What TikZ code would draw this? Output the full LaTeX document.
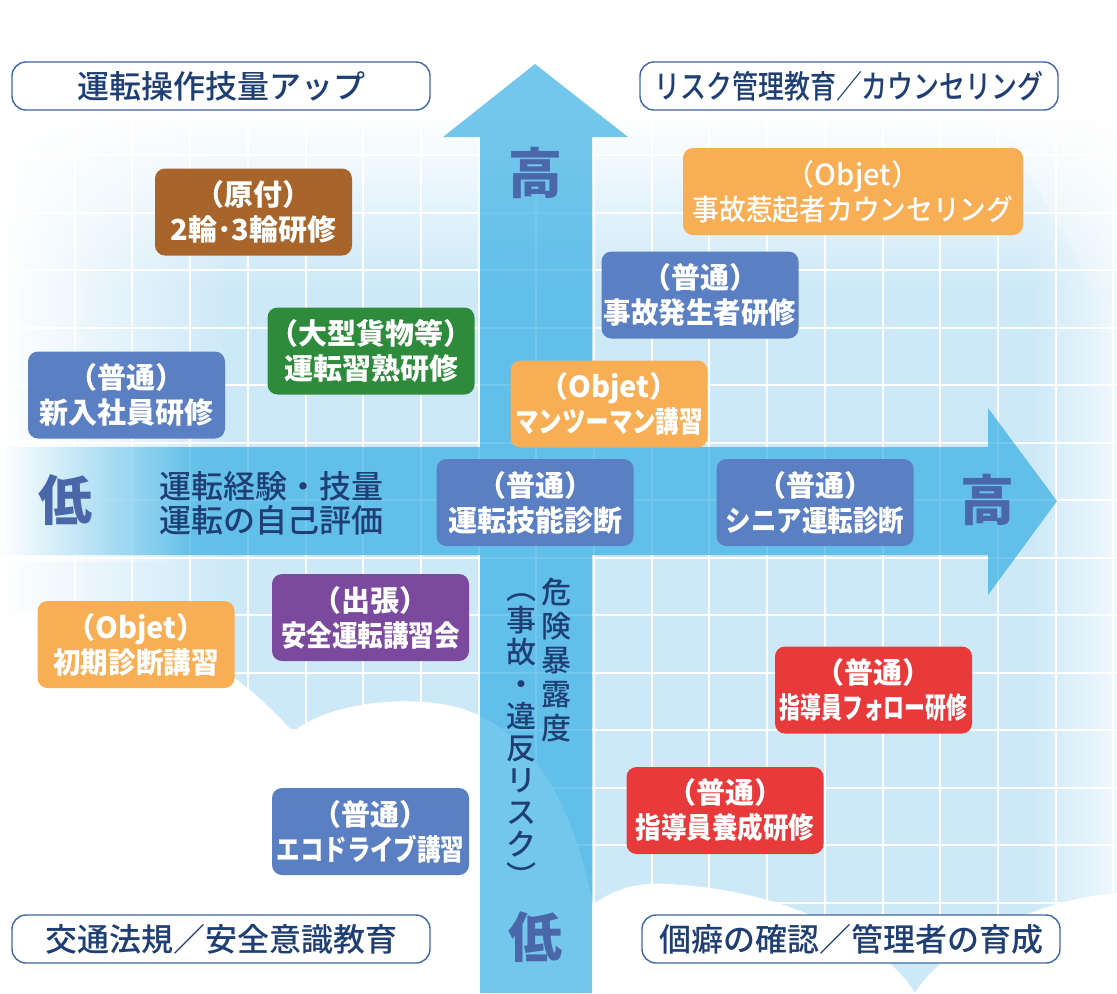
\documentclass[tikz,border=0pt]{standalone}
\usepackage{fontspec}
\setmainfont{Noto Sans CJK JP}
\newfontfamily\medfont{Noto Sans CJK JP Medium}
\usetikzlibrary{
	positioning,
	arrows.meta,
	shapes,
	calc,
	fadings}
\definecolor{bgblue}{HTML}{CDE9F8}
\definecolor{arrowblue}{HTML}{2AAAE2}
\definecolor{navy}{HTML}{1F3F74}
\definecolor{axisblue}{HTML}{4A67A9}
\definecolor{frameblue}{HTML}{3D67A8}
\definecolor{courseblue}{HTML}{5B7FC3}
\definecolor{courseorange}{HTML}{F7AE55}
\definecolor{coursebrown}{HTML}{A8652B}
\definecolor{coursegreen}{HTML}{2E8B3B}
\definecolor{coursepurple}{HTML}{7B4A9F}
\definecolor{coursered}{HTML}{E83A3A}
\tikzset{
	course width/.store in=\cwidth,
	course width=98.5pt,
	course height/.store in=\cheight,
	course height=43.5pt,
	course/.style={
		rounded corners=5pt,
		fill=#1,
		text=white,
		font=\bfseries\fontsize{14.5}{17.5}\selectfont,
		align=center,
		inner sep=1pt,
		minimum width=\cwidth,
		minimum height=\cheight
	},
	corner box/.style={
		draw=frameblue,
		line width=.7pt,
		fill=white,
		rounded corners=7pt,
		text=navy,
		font=\medfont\fontsize{16}{18}\selectfont,
		minimum width=209pt,
		minimum height=24pt
	},
	axis label/.style={
		text=axisblue,
		font=\bfseries\fontsize{27}{27}\selectfont,
		inner sep=0pt
	},
	risk text/.style={
		text=navy,
		align=center,
		inner sep=0pt,
		font=\medfont\fontsize{15}{17}\selectfont
	},
	grid line/.style={white, line width=1pt},
	axis arrow/.style={fill=arrowblue, fill opacity=.65},
}
\newcommand{\squeeze}[2]{\scalebox{#1}[1]{#2}}

\begin{document}
\begin{tikzpicture}[x=.5pt, y=-.5pt]
	\useasboundingbox (0,0) rectangle (1117,993);
%
	\fill[bgblue] (0,0) rectangle (1117,993);
	\foreach \k in {-10,...,8}
		\draw[grid line] ({651.7+57.7*\k},100) -- ({651.7+57.7*\k},993);
	\foreach \k in {-7,...,8}
		\draw[grid line] (0,{500+57.5*\k}) -- (1117,{500+57.5*\k});
	\fill[white] (0,0) rectangle (1117,115);
	\fill[white, path fading=south] (0,114) rectangle (1117,290);
	\fill[white, path fading=east] (0,0) rectangle (230,993);
	\fill[white, path fading=west, fill opacity=.7] (1030,0) rectangle (1117,993);
	\fill[white, path fading=south, fill opacity=.8] (930,0) -- (1117,0) -- (1117,330) -- cycle;
%
	\fill[white] (0,993) -- (0,615) .. controls (120,600) and (220,650) .. (293,732)
		.. controls (330,700) and (430,690) .. (480,716)
		.. controls (540,745) and (590,820) .. (605,993) -- cycle;
	\fill[white] (592,993) -- (592,905) .. controls (615,888) and (640,882) .. (666,884)
		.. controls (800,890) and (890,950) .. (915,993)
		.. controls (940,950) and (1030,900) .. (1117,893) -- (1117,993) -- cycle;
%
	\fill[axis arrow] (0,447) -- (480,447) -- (480,137) -- (443,137) -- (535,64)
		-- (628,137) -- (592,137) -- (592,447) -- (988,447) -- (988,408)
		-- (1057,501) -- (988,595) -- (988,555) -- (592,555) -- (592,993)
		-- (480,993) -- (480,555) -- (0,555) -- cycle;
	\fill[white, path fading=east] (0,440) rectangle (190,562);
%
	\node[corner box] (tl) at (221,86) {運転操作技量アップ};
	\node[corner box] (tr) at (849,86) {\squeeze{.81}{リスク管理教育／カウンセリング}};
	\node[corner box] (bl) at (221,939) {交通法規／安全意識教育};
	\node[corner box] (br) at (851,939) {個癖の確認／管理者の育成};
%
	\node[axis label] (vhigh) at (535,173) {高};
	\node[axis label] (vlow)  at (535,937) {低};
	\node[axis label] (hlow)  at (65,500)  {低};
	\node[axis label] (hhigh) at (987,500) {高};
	\node[text=navy, align=left, anchor=west, font=\medfont\fontsize{16}{17}\selectfont] (exp) at (152,503) {運転経験・技量\\運転の自己評価};
	\node[risk text] (risk) at (556,660) {危\\険\\暴\\露\\度};
	\node[risk text, font=\medfont\fontsize{15}{16}\selectfont] (riskb) at (521,740) {︵\\事\\故\\・\\違\\反\\リ\\ス\\ク\\︶};
%
	\node[course=coursebrown]  (moped)    at (253.5,212)  {（原付）\\2輪･3輪研修};
	\node[course=coursegreen]  (heavy)    at (371,351)    {（大型貨物等）\\運転習熟研修};
	\node[course=courseblue]   (newhire)  at (126.5,395)  {（普通）\\新入社員研修};
	\node[course=courseorange] (oneonone) at (609,404)    {\medfont（Objet）\\\bfseries\squeeze{.81}{マンツーマン講習}};
	\node[course=courseorange, minimum width=170pt, font=\medfont\fontsize{14.5}{17.5}\selectfont] (counsel) at (853,191.5) {（Objet）\\\squeeze{.92}{事故惹起者カウンセリング}};
	\node[course=courseblue]   (accident) at (700,295)    {（普通）\\\squeeze{.95}{事故発生者研修}};
	\node[course=courseblue]   (skill)    at (535,502.5)  {（普通）\\運転技能診断};
	\node[course=courseblue]   (senior)   at (815,502.5)  {（普通）\\\squeeze{.88}{シニア運転診断}};
	\node[course=coursepurple] (lecture)  at (370.5,617.5) {（出張）\\\squeeze{.88}{安全運転講習会}};
	\node[course=courseorange] (initial)  at (136,644.5)  {\medfont（Objet）\\\bfseries\squeeze{.95}{初期診断講習}};
	\node[course=coursered]    (follow)   at (873.5,690)  {（普通）\\\squeeze{.72}{指導員フォロー研修}};
	\node[course=coursered]    (trainer)  at (725,810.5)  {（普通）\\\squeeze{.88}{指導員養成研修}};
	\node[course=courseblue]   (eco)      at (370.5,831.5) {（普通）\\\squeeze{.81}{エコドライブ講習}};
\end{tikzpicture}
\end{document}
